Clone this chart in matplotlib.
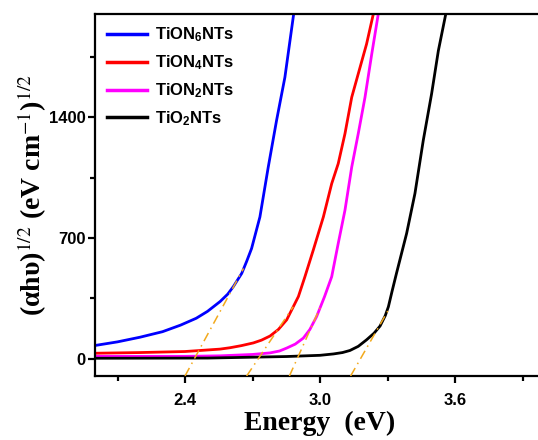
import numpy as np
import matplotlib
matplotlib.use('Agg')
import matplotlib.pyplot as plt
from matplotlib.ticker import MultipleLocator

plt.rcParams['mathtext.fontset'] = 'stix'

# curves: photon energy (eV) and (ahv)^1/2
e_n6 = [2.00, 2.10, 2.20, 2.30, 2.38, 2.45, 2.50, 2.556, 2.59, 2.615, 2.652, 2.674, 2.696,
        2.733, 2.770, 2.807, 2.844, 2.883]
v_n6 = [77, 98, 125, 157, 195, 235, 275, 332, 375, 419, 495, 565, 640,
        823, 1112, 1383, 1633, 2000]

e_n4 = [2.00, 2.20, 2.40, 2.556, 2.60, 2.65, 2.704, 2.74, 2.778, 2.815, 2.852, 2.904, 2.933,
        2.97, 3.015, 3.052, 3.081, 3.111, 3.141, 3.17, 3.207, 3.237]
v_n4 = [32, 36, 42, 56, 64, 76, 92, 108, 132, 170, 226, 361, 476,
        630, 823, 1016, 1132, 1306, 1517, 1653, 1826, 2000]

e_n2 = [2.00, 2.40, 2.556, 2.70, 2.778, 2.82, 2.852, 2.89, 2.926, 2.955, 2.985, 3.02, 3.052,
        3.081, 3.111, 3.141, 3.17, 3.20, 3.23, 3.259]
v_n2 = [14, 14, 17, 25, 34, 45, 62, 85, 120, 170, 245, 360, 476,
        669, 862, 1112, 1306, 1517, 1768, 2000]

e_o2 = [2.00, 2.50, 2.852, 3.00, 3.06, 3.10, 3.133, 3.17, 3.207, 3.24, 3.267, 3.29, 3.304,
        3.32, 3.34, 3.385, 3.422, 3.459, 3.496, 3.526, 3.559]
v_o2 = [3, 4, 13, 20, 28, 36, 48, 72, 110, 148, 190, 250, 302,
        390, 496, 727, 959, 1267, 1537, 1787, 2000]

labels = ['TiON$\\mathregular{_6}$NTs', 'TiON$\\mathregular{_4}$NTs',
          'TiON$\\mathregular{_2}$NTs', 'TiO$\\mathregular{_2}$NTs']
colors = ['#0000ff', '#ff0000', '#ff00ff', '#000000']

# band-gap tangent lines (start / end)
tan_e0 = [2.40, 2.674, 2.864, 3.136]
tan_v0 = [-100, -100, -100, -100]
tan_e1 = [2.66, 2.881, 3.00, 3.304]
tan_v1 = [524, 302, 295, 283]

fig = plt.figure(figsize=(5.38, 4.4), dpi=100)
ax = fig.add_axes([95/538, 64/440, 450/538, 362/440])

series = [(e_n6, v_n6), (e_n4, v_n4), (e_n2, v_n2), (e_o2, v_o2)]
for (e, v), c, lab in zip(series, colors, labels):
    ax.plot(e, v, color=c, lw=2.0, label=lab, solid_joinstyle='round')

for i in range(len(tan_e0)):
    ax.plot([tan_e0[i], tan_e1[i]], [tan_v0[i], tan_v1[i]], color='#f2a91c',
            lw=1.1, ls=(0, (6, 3, 1, 3)), zorder=5)

ax.set_xlim(2.0, 4.0)
ax.set_ylim(-100, 2000)
ax.xaxis.set_minor_locator(MultipleLocator(0.3))
ax.set_xticks([2.4, 3.0, 3.6])
ax.set_xticklabels(['2.4', '3.0', '3.6'])
ax.set_yticks([0, 700, 1400])
ax.yaxis.set_minor_locator(MultipleLocator(350))

for s in ax.spines.values():
    s.set_linewidth(1.6)
ax.tick_params(which='major', direction='out', length=5, width=1.6)
ax.tick_params(which='minor', direction='out', length=3.5, width=1.6)
ax.tick_params(axis='x', which='major', pad=7)
ax.tick_params(axis='y', which='major', pad=2)
for t in ax.get_xticklabels() + ax.get_yticklabels():
    t.set_fontfamily('Liberation Sans')
    t.set_fontweight('bold')
    t.set_fontsize(12)

ax.set_xlabel('Energy  (eV)', fontfamily='Liberation Serif', fontweight='bold', fontsize=20, labelpad=2)
ax.set_ylabel('(αhυ)$^{1/2}$ (eV cm$^{-1}$)$^{1/2}$', fontfamily='Liberation Serif',
              fontweight='bold', fontsize=20, labelpad=0)

leg = ax.legend(loc='upper left', frameon=False, handlelength=2.4, labelspacing=0.55,
                prop={'family': 'Liberation Sans', 'weight': 'bold', 'size': 12},
                borderaxespad=0.3, handletextpad=0.5)
for line in leg.get_lines():
    line.set_linewidth(2.5)

fig.savefig('out.png', dpi=100)
